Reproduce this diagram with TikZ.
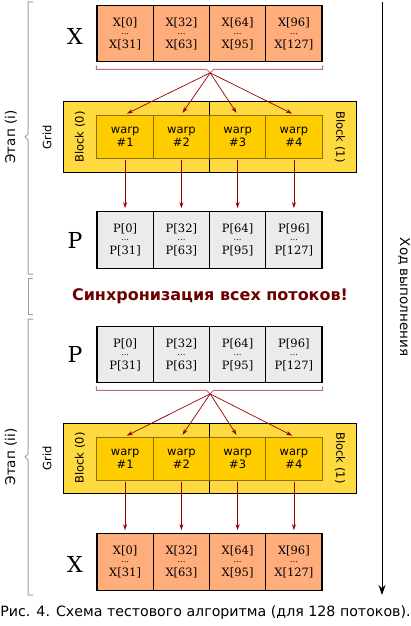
\documentclass[tikz,border=0pt]{standalone}
\usepackage{fontspec}
\setmainfont{DejaVu Serif}
\setsansfont{DejaVu Sans}
\usetikzlibrary{arrows.meta}

\definecolor{xfill}{HTML}{FFAD7A}
\definecolor{pfill}{HTML}{EBEBEB}
\definecolor{gridfill}{HTML}{FFD940}
\definecolor{warpfill}{HTML}{FFCC00}
\definecolor{warpline}{HTML}{8A7000}
\definecolor{flowred}{HTML}{990000}
\definecolor{bracered}{HTML}{C07070}
\definecolor{bracegray}{HTML}{A0A0A0}
\definecolor{syncred}{HTML}{6E0000}

\newcommand{\celldots}{\raisebox{3pt}{\fontsize{8.5}{8}\selectfont...}}

\begin{document}
\begin{tikzpicture}[x=1pt,y=-1pt,
    cellbox/.style={draw=black, line width=1.2pt, minimum width=56.25pt,
        minimum height=56.5pt, inner sep=0pt, align=center,
        font=\fontsize{11.5}{11}\selectfont},
    xcell/.style={cellbox, fill=xfill},
    pcell/.style={cellbox, fill=pfill},
    blockbox/.style={draw=black, line width=0.8pt, fill=gridfill,
        minimum width=146.5pt, inner sep=0pt},
    warpbox/.style={draw=warpline, line width=1pt, fill=warpfill,
        minimum width=56.25pt, minimum height=43pt, inner sep=0pt,
        align=center, font=\sffamily\fontsize{11.5}{13}\selectfont},
    sidelabel/.style={font=\sffamily\fontsize{11.5}{11.5}\selectfont, inner sep=0pt},
    rowlabel/.style={font=\fontsize{22}{22}\selectfont, inner sep=0pt},
    fan/.style={draw=flowred, line width=0.7pt, shorten >=2pt,
        -{Stealth[length=6pt,width=4pt]}},
    flow/.style={draw=flowred, line width=0.7pt, shorten <=1.5pt, shorten >=3pt,
        -{Stealth[length=6pt,width=4pt]}},
    brace/.style={draw=bracered, line width=0.8pt},
    bracket/.style={draw=bracegray, line width=1pt},
    stagelabel/.style={font=\sffamily\fontsize{13.5}{13.5}\selectfont, inner sep=0pt, rotate=90}]
    \useasboundingbox (0,0) rectangle (411,626);

    % Stage brackets on the left
    \draw[bracket] (33,2) -- (28,2) -- (28,134) -- (25,137) -- (28,140) -- (28,274) -- (33,274);
    \draw[bracket] (33,278) -- (28,278) -- (28,314) -- (33,314);
    \draw[bracket] (33,319) -- (28,319) -- (28,454) -- (25,457) -- (28,460) -- (28,595) -- (33,595);
    \node[stagelabel] (stagea) at (11,137) {Этап (i)};
    \node[stagelabel] (stageb) at (11,457) {Этап (ii)};

    % Execution arrow on the right
    \coordinate (timetop) at (382,2);
    \coordinate (timeend) at (382,595);
    \draw[line width=1pt, -{Stealth[length=10pt,width=7pt]}] (timetop) -- (timeend);
    \node[font=\sffamily\fontsize{13.5}{13.5}\selectfont, rotate=-90, inner sep=0pt] (timelabel) at (404,297) {Ход выполнения};

    % Stage (i): X row
    \node[rowlabel] (xlabela) at (75,36) {X};
    \node[xcell] (xa1) at (125.1,33.5) {X[0]\\\celldots\\X[31]};
    \node[xcell] (xa2) at (181.4,33.5) {X[32]\\\celldots\\X[63]};
    \node[xcell] (xa3) at (237.6,33.5) {X[64]\\\celldots\\X[95]};
    \node[xcell] (xa4) at (293.9,33.5) {X[96]\\\celldots\\X[127]};
    \coordinate (fana) at ([yshift=-10.5pt]xa2.south east);
    \draw[brace] ([yshift=-3pt]xa1.south west) -- ([yshift=-7pt]xa1.south west)
        -- ([xshift=-3.5pt,yshift=3.5pt]fana) -- (fana) -- ([xshift=3.5pt,yshift=3.5pt]fana)
        -- ([yshift=-7pt]xa4.south east) -- ([yshift=-3pt]xa4.south east);

    % Stage (i): grid
    \node[blockbox, minimum height=71pt] (blka0) at (136.25,136.5) {};
    \node[blockbox, minimum height=71pt] (blka1) at (282.75,136.5) {};
    \node[sidelabel, rotate=90] (grida) at (47,137) {Grid};
    \node[sidelabel, rotate=90] (blklabela0) at (80,137) {Block (0)};
    \node[sidelabel, rotate=-90] (blklabela1) at (340,137) {Block (1)};
    \node[warpbox] (wa1) at (125.1,136.5) {warp\\\#1};
    \node[warpbox] (wa2) at (181.4,136.5) {warp\\\#2};
    \node[warpbox] (wa3) at (237.6,136.5) {warp\\\#3};
    \node[warpbox] (wa4) at (293.9,136.5) {warp\\\#4};
    \draw[fan] (fana) -- (wa1.north);
    \draw[fan] (fana) -- (wa2.north);
    \draw[fan] (fana) -- (wa3.north);
    \draw[fan] (fana) -- (wa4.north);

    % Stage (i): P row
    \node[rowlabel] (plabela) at (75,240) {P};
    \node[pcell] (pa1) at (125.1,240) {P[0]\\\celldots\\P[31]};
    \node[pcell] (pa2) at (181.4,240) {P[32]\\\celldots\\P[63]};
    \node[pcell] (pa3) at (237.6,240) {P[64]\\\celldots\\P[95]};
    \node[pcell] (pa4) at (293.9,240) {P[96]\\\celldots\\P[127]};
    \draw[flow] (wa1.south) -- (pa1.north);
    \draw[flow] (wa2.south) -- (pa2.north);
    \draw[flow] (wa3.south) -- (pa3.north);
    \draw[flow] (wa4.south) -- (pa4.north);

    % Synchronisation
    \node[font=\sffamily\bfseries\fontsize{16}{16}\selectfont, text=syncred, inner sep=0pt] (sync) at (210,296) {Синхронизация всех потоков!};

    % Stage (ii): P row
    \node[rowlabel] (plabelb) at (75,354.5) {P};
    \node[pcell] (pb1) at (125.1,354.5) {P[0]\\\celldots\\P[31]};
    \node[pcell] (pb2) at (181.4,354.5) {P[32]\\\celldots\\P[63]};
    \node[pcell] (pb3) at (237.6,354.5) {P[64]\\\celldots\\P[95]};
    \node[pcell] (pb4) at (293.9,354.5) {P[96]\\\celldots\\P[127]};
    \coordinate (fanb) at ([yshift=-10.5pt]pb2.south east);
    \draw[brace] ([yshift=-3pt]pb1.south west) -- ([yshift=-7pt]pb1.south west)
        -- ([xshift=-3.5pt,yshift=3.5pt]fanb) -- (fanb) -- ([xshift=3.5pt,yshift=3.5pt]fanb)
        -- ([yshift=-7pt]pb4.south east) -- ([yshift=-3pt]pb4.south east);

    % Stage (ii): grid
    \node[blockbox, minimum height=70pt] (blkb0) at (136.25,458) {};
    \node[blockbox, minimum height=70pt] (blkb1) at (282.75,458) {};
    \node[sidelabel, rotate=90] (gridb) at (47,458) {Grid};
    \node[sidelabel, rotate=90] (blklabelb0) at (80,458) {Block (0)};
    \node[sidelabel, rotate=-90] (blklabelb1) at (340,458) {Block (1)};
    \node[warpbox] (wb1) at (125.1,458.5) {warp\\\#1};
    \node[warpbox] (wb2) at (181.4,458.5) {warp\\\#2};
    \node[warpbox] (wb3) at (237.6,458.5) {warp\\\#3};
    \node[warpbox] (wb4) at (293.9,458.5) {warp\\\#4};
    \draw[fan] (fanb) -- (wb1.north);
    \draw[fan] (fanb) -- (wb2.north);
    \draw[fan] (fanb) -- (wb3.north);
    \draw[fan] (fanb) -- (wb4.north);

    % Stage (ii): X row
    \node[rowlabel] (xlabelb) at (75,564) {X};
    \node[xcell] (xb1) at (125.1,562) {X[0]\\\celldots\\X[31]};
    \node[xcell] (xb2) at (181.4,562) {X[32]\\\celldots\\X[63]};
    \node[xcell] (xb3) at (237.6,562) {X[64]\\\celldots\\X[95]};
    \node[xcell] (xb4) at (293.9,562) {X[96]\\\celldots\\X[127]};
    \draw[flow] (wb1.south) -- (xb1.north);
    \draw[flow] (wb2.south) -- (xb2.north);
    \draw[flow] (wb3.south) -- (xb3.north);
    \draw[flow] (wb4.south) -- (xb4.north);

    % Caption
    \node[font=\sffamily\fontsize{14.2}{14.2}\selectfont, inner sep=0pt] (caption) at (205.5,613) {Рис. 4. Схема тестового алгоритма (для 128 потоков).};
\end{tikzpicture}
\end{document}
